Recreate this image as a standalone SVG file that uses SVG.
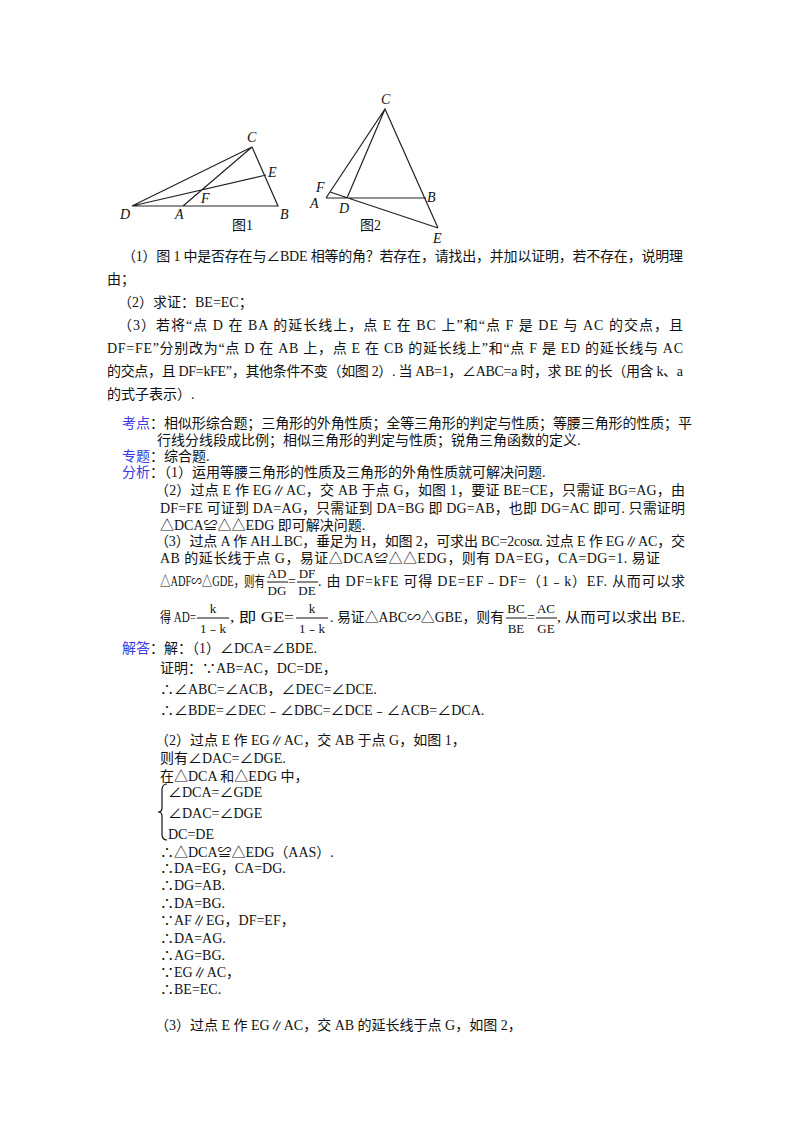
<svg xmlns="http://www.w3.org/2000/svg" width="800" height="1132" viewBox="0 0 800 1132">
<style>
text{font-family:"Liberation Serif","Noto Sans CJK SC",serif;font-size:14px;fill:#111}
.lb{fill:#3a3ae0}
.pt{font-style:italic;font-size:14px}
.fig{stroke:#222;stroke-width:1.2;fill:none}
.fr{font-size:13px}
</style>
<rect width="800" height="1132" fill="#fff"/>
<g id="fig1">
<path class="fig" d="M132,206 L278,206 L252,147 Z M183,206 L252,147 M132,206 L266,175"/>
<text class="pt" x="247" y="142">C</text>
<text class="pt" x="268" y="177">E</text>
<text class="pt" x="201" y="203">F</text>
<text class="pt" x="120" y="219">D</text>
<text class="pt" x="175" y="219">A</text>
<text class="pt" x="280" y="219">B</text>
<text x="232" y="230">图1</text>
</g>
<g id="fig2">
<path class="fig" d="M326,198 L426,198 M326,198 L385,109 L438,228 M385,109 L347,198 M330,192 L438,228"/>
<text class="pt" x="381" y="104">C</text>
<text class="pt" x="316" y="192">F</text>
<text class="pt" x="310" y="208">A</text>
<text class="pt" x="339" y="213">D</text>
<text class="pt" x="427" y="202">B</text>
<text class="pt" x="433" y="243">E</text>
<text x="360" y="230">图2</text>
</g>
<g id="question">
<text x="122" y="261" textLength="561" lengthAdjust="spacing">（1）图 1 中是否存在与∠BDE 相等的角？若存在，请找出，并加以证明，若不存在，说明理</text>
<text x="107" y="284">由；</text>
<text x="118" y="307">（2）求证：BE=EC；</text>
<text x="118" y="330" textLength="565" lengthAdjust="spacing">（3）若将“点 D 在 BA 的延长线上，点 E 在 BC 上”和“点 F 是 DE 与 AC 的交点，且</text>
<text x="107" y="353" textLength="576" lengthAdjust="spacing">DF=FE”分别改为“点 D 在 AB 上，点 E 在 CB 的延长线上”和“点 F 是 ED 的延长线与 AC</text>
<text x="107" y="376" textLength="576" lengthAdjust="spacing">的交点，且 DF=kFE”，其他条件不变（如图 2）. 当 AB=1，∠ABC=a 时，求 BE 的长（用含 k、a</text>
<text x="107" y="399">的式子表示）.</text>
</g>
<g id="analysis">
<text x="122" y="428"><tspan class="lb">考点</tspan>：<tspan textLength="528" lengthAdjust="spacing">相似形综合题；三角形的外角性质；全等三角形的判定与性质；等腰三角形的性质；平</tspan></text>
<text x="157" y="445">行线分线段成比例；相似三角形的判定与性质；锐角三角函数的定义.</text>
<text x="122" y="461"><tspan class="lb">专题</tspan>：综合题.</text>
<text x="122" y="477"><tspan class="lb">分析</tspan>：（1）运用等腰三角形的性质及三角形的外角性质就可解决问题.</text>
<text x="155" y="495" textLength="530" lengthAdjust="spacing">（2）过点 E 作 EG∥AC，交 AB 于点 G，如图 1，要证 BE=CE，只需证 BG=AG，由</text>
<text x="160" y="513" textLength="525" lengthAdjust="spacing">DF=FE 可证到 DA=AG，只需证到 DA=BG 即 DG=AB，也即 DG=AC 即可. 只需证明</text>
<text x="160" y="530">△DCA≌△△EDG 即可解决问题.</text>
<text x="155" y="546" textLength="530" lengthAdjust="spacing">（3）过点 A 作 AH⊥BC，垂足为 H，如图 2，可求出 BC=2cosα. 过点 E 作 EG∥AC，交</text>
<text x="160" y="563" textLength="500" lengthAdjust="spacing">AB 的延长线于点 G，易证△DCA≌△△EDG，则有 DA=EG，CA=DG=1. 易证</text>
<text x="160" y="586" textLength="105" lengthAdjust="spacingAndGlyphs">△ADF∽△GDE，则有</text>
<text class="fr" x="277" y="578" text-anchor="middle">AD</text>
<line x1="267" y1="582" x2="288" y2="582" stroke="#111"/>
<text class="fr" x="277" y="595" text-anchor="middle">DG</text>
<text x="288" y="586">=</text>
<text class="fr" x="307" y="578" text-anchor="middle">DF</text>
<line x1="297" y1="582" x2="318" y2="582" stroke="#111"/>
<text class="fr" x="307" y="595" text-anchor="middle">DE</text>
<text x="318" y="586" textLength="367" lengthAdjust="spacing">. 由 DF=kFE 可得 DE=EF﹣DF=（1﹣k）EF. 从而可以求</text>
<text x="160" y="622" textLength="36" lengthAdjust="spacingAndGlyphs">得 AD=</text>
<text class="fr" x="213" y="613" text-anchor="middle">k</text>
<line x1="197" y1="618" x2="229" y2="618" stroke="#111"/>
<text class="fr" x="213" y="633" text-anchor="middle">1﹣k</text>
<text x="230" y="622" textLength="64" lengthAdjust="spacingAndGlyphs">, 即 GE=</text>
<text class="fr" x="312" y="613" text-anchor="middle">k</text>
<line x1="296" y1="618" x2="328" y2="618" stroke="#111"/>
<text class="fr" x="312" y="633" text-anchor="middle">1﹣k</text>
<text x="330" y="622" textLength="174" lengthAdjust="spacingAndGlyphs">. 易证△ABC∽△GBE，则有</text>
<text class="fr" x="516" y="613" text-anchor="middle">BC</text>
<line x1="506" y1="618" x2="527" y2="618" stroke="#111"/>
<text class="fr" x="516" y="633" text-anchor="middle">BE</text>
<text x="527" y="622">=</text>
<text class="fr" x="546" y="613" text-anchor="middle">AC</text>
<line x1="536" y1="618" x2="557" y2="618" stroke="#111"/>
<text class="fr" x="546" y="633" text-anchor="middle">GE</text>
<text x="557" y="622" textLength="128" lengthAdjust="spacingAndGlyphs">, 从而可以求出 BE.</text>
</g>
<g id="answer">
<text x="122" y="653"><tspan class="lb">解答</tspan>：解：（1）∠DCA=∠BDE.</text>
<text x="160" y="673">证明：∵AB=AC，DC=DE，</text>
<text x="160" y="694">∴∠ABC=∠ACB，∠DEC=∠DCE.</text>
<text x="160" y="715">∴∠BDE=∠DEC﹣∠DBC=∠DCE﹣∠ACB=∠DCA.</text>
<text x="155" y="745">（2）过点 E 作 EG∥AC，交 AB 于点 G，如图 1，</text>
<text x="160" y="763">则有∠DAC=∠DGE.</text>
<text x="160" y="781">在△DCA 和△EDG 中，</text>
<path d="M167,784 Q162,784 162,790 L162,808 Q162,812 158,812 Q162,812 162,816 L162,834 Q162,840 167,840" fill="none" stroke="#111" stroke-width="1.2"/>
<text x="168" y="797">∠DCA=∠GDE</text>
<text x="168" y="818">∠DAC=∠DGE</text>
<text x="168" y="839">DC=DE</text>
<text x="160" y="857">∴△DCA≌△EDG（AAS）.</text>
<text x="160" y="873">∴DA=EG，CA=DG.</text>
<text x="160" y="890">∴DG=AB.</text>
<text x="160" y="908">∴DA=BG.</text>
<text x="160" y="925">∵AF∥EG，DF=EF，</text>
<text x="160" y="943">∴DA=AG.</text>
<text x="160" y="960">∴AG=BG.</text>
<text x="160" y="977">∵EG∥AC，</text>
<text x="160" y="994">∴BE=EC.</text>
<text x="155" y="1030">（3）过点 E 作 EG∥AC，交 AB 的延长线于点 G，如图 2，</text>
</g>
</svg>
